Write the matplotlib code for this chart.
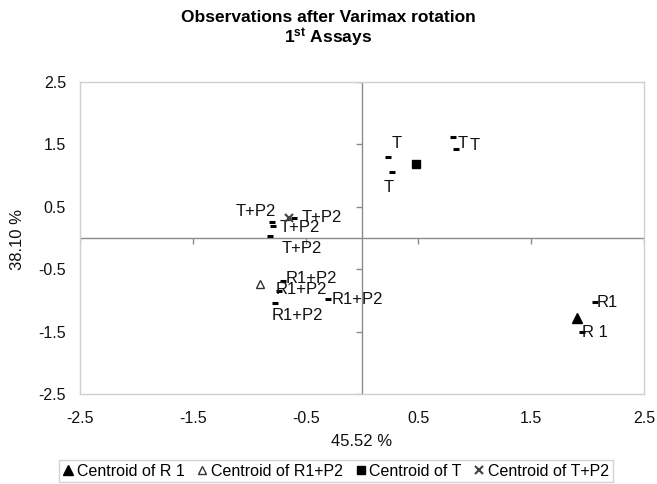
import matplotlib
matplotlib.use("Agg")
import matplotlib.pyplot as plt

plt.rcParams['font.family'] = ['Liberation Sans', 'DejaVu Sans']
plt.rcParams['mathtext.fontset'] = 'custom'
plt.rcParams['mathtext.bf'] = 'Liberation Sans:bold'
plt.rcParams['mathtext.rm'] = 'Liberation Sans'

# ---- data ----
title_line1 = "Observations after Varimax rotation"
x_label = "45.52 %"
y_label = "38.10 %"
ticks = [-2.5, -1.5, -0.5, 0.5, 1.5, 2.5]
tick_labels = ["-2.5", "-1.5", "-0.5", "0.5", "1.5", "2.5"]

t_x = [0.23, 0.27, 0.81, 0.83]
t_y = [1.30, 1.06, 1.62, 1.43]
t_labels = ["T", "T", "T", "T"]

r1_x = [2.07, 1.95]
r1_y = [-1.03, -1.51]
r1_labels = ["R1", "R 1"]

r1p2_x = [-0.70, -0.74, -0.30, -0.77]
r1p2_y = [-0.69, -0.85, -0.98, -1.04]
r1p2_labels = ["R1+P2", "R1+P2", "R1+P2", "R1+P2"]

tp2_x = [-0.80, -0.79, -0.60, -0.82]
tp2_y = [0.26, 0.19, 0.32, 0.03]
tp2_labels = ["T+P2", "T+P2", "T+P2", "T+P2"]

centroid_names = ["Centroid of R 1", "Centroid of R1+P2", "Centroid of T", "Centroid of T+P2"]
centroid_x = [1.91, -0.90, 0.48, -0.65]
centroid_y = [-1.28, -0.74, 1.19, 0.32]

# label offsets (pixels) -- layout only
t_off = [(9, 13), (-4, -16), (9, -7), (19, 3)]
r1_off = [(12, 0), (13, 0)]
r1p2_off = [(28, 3), (23, 2), (29, 0), (22, -13)]
tp2_off = [(-16, 10), (27, -1), (27, 1), (32, -12)]

fig = plt.figure(figsize=(6.57, 4.84), dpi=100)
ax = fig.add_axes([80/657, 1-394/484, (644-80)/657, (394-82)/484])
ax.set_xlim(-2.5, 2.5)
ax.set_ylim(-2.5, 2.5)

for s in ax.spines.values():
    s.set_color('#d0d0d0')
    s.set_linewidth(1.0)

ax.set_xticks(ticks)
ax.set_xticklabels(tick_labels)
ax.set_yticks(ticks)
ax.set_yticklabels(tick_labels)
ax.tick_params(axis='x', length=0, pad=12, labelsize=11.5, labelcolor='#111111')
ax.tick_params(axis='y', length=0, pad=10, labelsize=11.5, labelcolor='#111111')

# center axes
ax.axhline(0, color='#8c8c8c', lw=1.0, zorder=1)
ax.axvline(0, color='#8c8c8c', lw=1.0, zorder=1)
# small tick marks on the crossing axes
ax.plot(ticks, [0]*len(ticks), ls='none', marker=3, ms=4, mew=1, color='#8c8c8c', zorder=1)
ax.plot([0]*len(ticks), ticks, ls='none', marker=0, ms=4, mew=1, color='#8c8c8c', zorder=1)

def draw_group(xs, ys, labels, offs):
    ax.plot(xs, ys, ls='none', marker='_', ms=5, mew=2.2, color='black', zorder=3)
    for x, y, lab, (dx, dy) in zip(xs, ys, labels, offs):
        ax.annotate(lab, (x, y), xytext=(dx, dy), textcoords='offset pixels',
                    ha='center', va='center', fontsize=12, color='#111111', zorder=4)

draw_group(t_x, t_y, t_labels, t_off)
draw_group(r1_x, r1_y, r1_labels, r1_off)
draw_group(r1p2_x, r1p2_y, r1p2_labels, r1p2_off)
draw_group(tp2_x, tp2_y, tp2_labels, tp2_off)

styles = [
    dict(marker='^', ms=7, mfc='black', mec='black'),
    dict(marker='^', ms=6, mfc='white', mec='#333333', mew=1.0),
    dict(marker='s', ms=6, mfc='black', mec='black'),
    dict(marker='x', ms=6, mec='#444444', mew=1.5),
]
handles = []
for name, cx, cy, st in zip(centroid_names, centroid_x, centroid_y, styles):
    h, = ax.plot([cx], [cy], ls='none', label=name, zorder=5, **st)
    handles.append(h)

fig.text(0.5, 1-18/484, title_line1, ha='center', va='center', fontsize=12.5, fontweight='bold')
fig.text(0.5, 1-38/484, r"$\mathbf{1^{st}}$ Assays", ha='center', va='center',
         fontsize=12.5, fontweight='bold')
fig.text(362/657, 1-441/484, x_label, ha='center', va='center', fontsize=12, color='#111111')
fig.text(18/657, 1-240/484, y_label, ha='center', va='center', rotation=90, fontsize=12, color='#111111')

leg = fig.legend(handles=handles, loc='center', bbox_to_anchor=(336/657, 1-471/484), ncol=4,
                 frameon=True, fancybox=False, edgecolor='#c8c8c8', fontsize=11.5,
                 handlelength=0.7, handletextpad=0.2, columnspacing=0.75,
                 borderpad=0.25, borderaxespad=0)
leg.get_frame().set_linewidth(1.0)

fig.savefig("out.png", dpi=100)
